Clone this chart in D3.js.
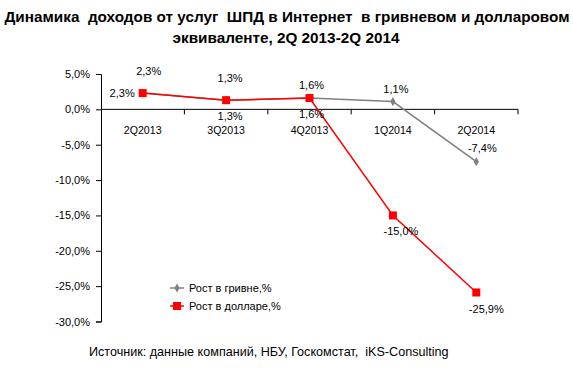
<!DOCTYPE html>
<html>
<head>
<meta charset="utf-8">
<script src="https://cdn.jsdelivr.net/npm/d3@7"></script>
<style>
  body { margin: 0; background: #fff; }
  text { font-family: "Liberation Sans", Arial, sans-serif; fill: #000; white-space: pre; }
</style>
</head>
<body>
<script>
// chart data
const quarters = ["2Q2013", "3Q2013", "4Q2013", "1Q2014", "2Q2014"];
const uahGrowth = [2.3, 1.3, 1.6, 1.1, -7.4];
const usdGrowth = [2.3, 1.3, 1.6, -15.0, -25.9];
const yTicks = [5, 0, -5, -10, -15, -20, -25, -30];
const seriesNames = ["Рост в гривне,%", "Рост в долларе,%"];

const width = 573, height = 369;
const svg = d3.select("body").append("svg")
  .attr("width", width).attr("height", height);

// title
svg.append("text").attr("x", 287).attr("y", 22)
  .attr("text-anchor", "middle").attr("font-size", 15.3).attr("font-weight", "bold")
  .text("Динамика  доходов от услуг  ШПД в Интернет  в гривневом и долларовом");
svg.append("text").attr("x", 286).attr("y", 43)
  .attr("text-anchor", "middle").attr("font-size", 15.3).attr("font-weight", "bold")
  .text("эквиваленте, 2Q 2013-2Q 2014");

const x = d3.scaleBand().domain(quarters).range([101, 518]);
const y = d3.scaleLinear().domain([-30, 5]).range([321.5, 74]);
const fmt = v => d3.format(".1f")(v).replace(".", ",").replace("−", "-") + "%";

// y axis
const yAxis = svg.append("g").attr("transform", "translate(101,0)")
  .call(d3.axisLeft(y).tickValues(yTicks).tickSize(5).tickFormat(fmt));
yAxis.select(".domain").attr("stroke", "#000");
yAxis.selectAll("text").attr("font-size", 11).attr("x", -11)
  .attr("font-family", "Liberation Sans, Arial, sans-serif");

// x axis on zero line, ticks at band boundaries
const xg = svg.append("g").attr("transform", `translate(0,${y(0)})`);
xg.append("line").attr("x1", 101).attr("x2", 518).attr("stroke", "#000");
xg.selectAll(".tk").data(quarters).join("line")
  .attr("x1", d => x(d) + x.bandwidth())
  .attr("x2", d => x(d) + x.bandwidth())
  .attr("y1", 0).attr("y2", 5).attr("stroke", "#000");
xg.selectAll(".lbl").data(quarters).join("text")
  .attr("x", d => x(d) + x.bandwidth() / 2).attr("y", 25)
  .attr("text-anchor", "middle").attr("font-size", 10.6).text(d => d);

const cx = i => x(quarters[i]) + x.bandwidth() / 2;
const line = d3.line().x((d, i) => cx(i)).y(d => y(d));

// grivna series (grey)
svg.append("path").datum(uahGrowth).attr("d", line)
  .attr("fill", "none").attr("stroke", "#808080").attr("stroke-width", 1.5);
svg.selectAll(".uahpt").data(uahGrowth).join("path")
  .attr("d", d3.symbol(d3.symbolDiamond, 24))
  .attr("transform", (d, i) => `translate(${cx(i)},${y(d)})`)
  .attr("fill", "#808080");

// dollar series (red)
svg.append("path").datum(usdGrowth).attr("d", line)
  .attr("fill", "none").attr("stroke", "#ff0000").attr("stroke-width", 1.5);
svg.selectAll(".usdpt").data(usdGrowth).join("rect")
  .attr("x", (d, i) => cx(i) - 4).attr("y", d => y(d) - 4)
  .attr("width", 8).attr("height", 8).attr("fill", "#ff0000");

// data labels: grivna above the points, dollar below (first one to the left)
const upGap = [18, 18, 9, 9, 10];
const upShift = [6, 4, 2, 3, 6];
svg.selectAll(".uahlbl").data(uahGrowth).join("text")
  .attr("x", (d, i) => cx(i) + upShift[i])
  .attr("y", (d, i) => y(d) - upGap[i])
  .attr("text-anchor", "middle").attr("font-size", 11).text(fmt);
const downShift = [0, 4, 2, 8, 10];
svg.selectAll(".usdlbl").data(usdGrowth).join("text")
  .attr("x", (d, i) => i === 0 ? cx(i) - 8 : cx(i) + downShift[i])
  .attr("y", (d, i) => i === 0 ? y(d) + 4 : y(d) + 20)
  .attr("text-anchor", (d, i) => i === 0 ? "end" : "middle")
  .attr("font-size", 11).text(fmt);

// legend
const legend = svg.append("g");
seriesNames.forEach((name, i) => {
  const ly = 288 + i * 18;
  legend.append("line").attr("x1", 170).attr("x2", 184).attr("y1", ly).attr("y2", ly)
    .attr("stroke", i === 0 ? "#808080" : "#ff0000").attr("stroke-width", 1.5);
  if (i === 0) {
    legend.append("path").attr("d", d3.symbol(d3.symbolDiamond, 24))
      .attr("transform", `translate(177,${ly})`).attr("fill", "#808080");
  } else {
    legend.append("rect").attr("x", 173).attr("y", ly - 4).attr("width", 8).attr("height", 8)
      .attr("fill", "#ff0000");
  }
  legend.append("text").attr("x", 189).attr("y", ly + 4).attr("font-size", 11).text(name);
});

// source
svg.append("text").attr("x", 89).attr("y", 356).attr("font-size", 12.6)
  .text("Источник: данные компаний, НБУ, Госкомстат,  iKS-Consulting");
</script>
</body>
</html>
